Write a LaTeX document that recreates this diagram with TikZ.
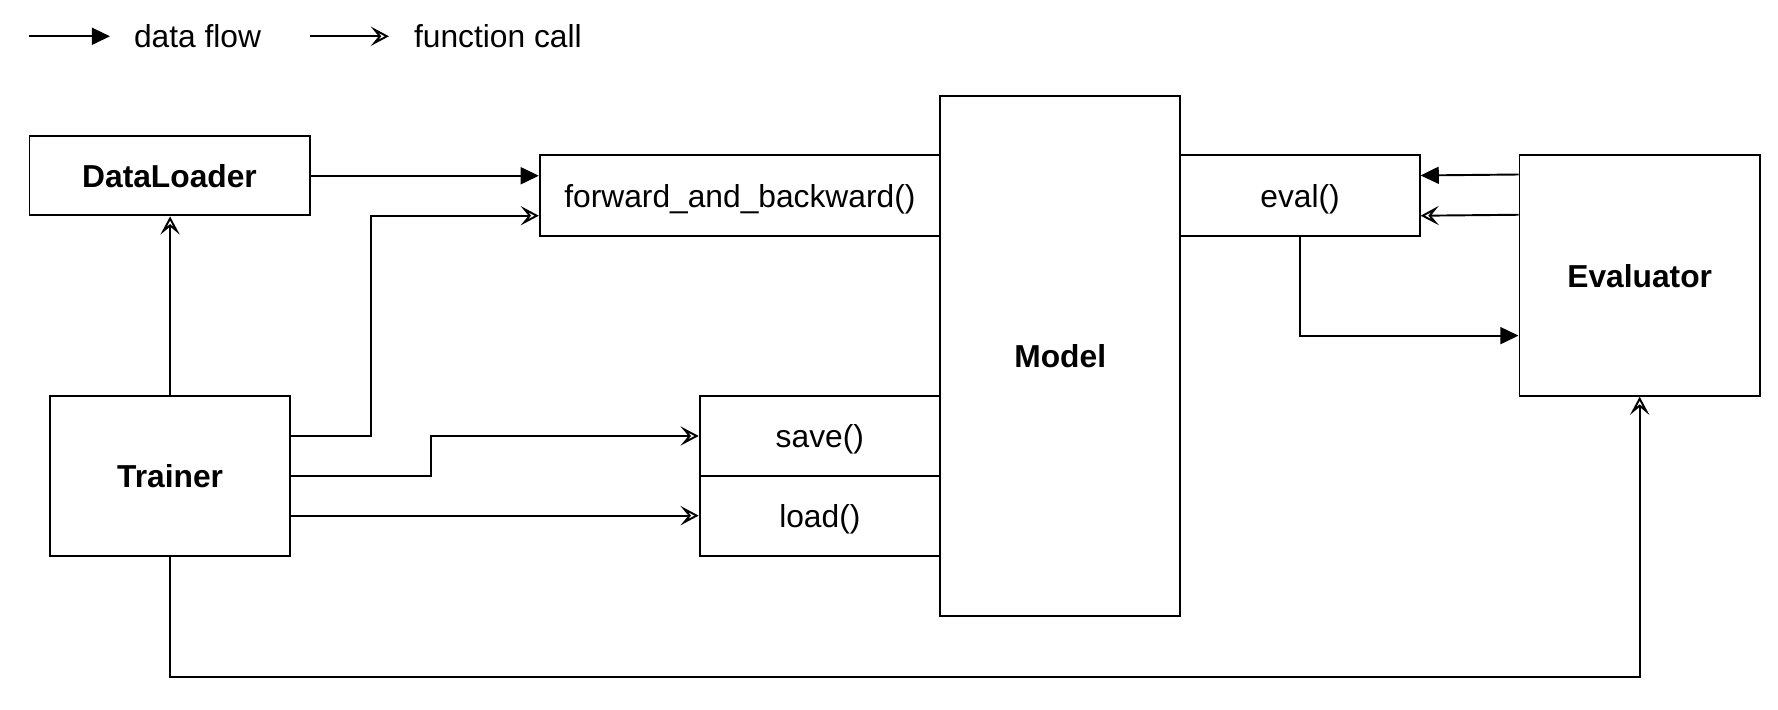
\documentclass[tikz,border=0pt]{standalone}
\usepackage{fontspec}
\setmainfont{Liberation Sans}
\usetikzlibrary{arrows.meta}

\tikzset{
  box/.style={draw, line width=1.7pt, inner sep=0pt, text depth=0pt, font=\fontsize{28}{34}\selectfont},
  dataflow/.style={line width=1.7pt, -{Triangle[length=16pt,width=15pt]}},
  funccall/.style={line width=1.7pt, -{Stealth[open,length=16pt,width=17pt,inset=7pt]}},
  legendtext/.style={anchor=west, inner sep=0pt, font=\fontsize{28}{34}\selectfont}
}

\begin{document}
\begin{tikzpicture}[x=1pt,y=1pt]
    \useasboundingbox (0,0) rectangle (1568,626);

    % Legend
    \coordinate (df1) at (26,594);
    \coordinate (df2) at (97,594);
    \coordinate (fc1) at (273,594);
    \coordinate (fc2) at (343,594);
    \draw[dataflow] (df1) -- (df2);
    \node[legendtext] (dflabel) at (118,594) {data flow};
    \draw[funccall] (fc1) -- (fc2);
    \node[legendtext] (fclabel) at (365,594) {function call};

    % Boxes
    \node[box, minimum width=247pt, minimum height=70pt] (dataloader) at (149.5,471) {\textbf{DataLoader}};
    \node[box, minimum width=212pt, minimum height=141pt] (trainer) at (150,206.5) {\textbf{Trainer}};
    \node[box, minimum width=212pt, minimum height=458pt] (model) at (935,312) {\textbf{Model}};
    \node[box, minimum width=353pt, minimum height=71pt] (fwd) at (652.5,453.5) {forward\_and\_backward()};
    \node[box, minimum width=211pt, minimum height=71pt] (eval) at (1146.5,453.5) {eval()};
    \node[box, minimum width=212pt, minimum height=71pt] (save) at (723,241.5) {save()};
    \node[box, minimum width=212pt, minimum height=70pt] (load) at (723,171) {load()};
    \node[box, minimum width=212pt, minimum height=212pt] (evaluator) at (1446,383) {\textbf{Evaluator}};

    % DataLoader and Trainer to the model
    \draw[dataflow] (dataloader.east) -- (dataloader.east -| fwd.west);
    \draw[funccall] (trainer.north) -- (trainer.north |- dataloader.south);
    \draw[funccall] ([yshift=35.25pt]trainer.east) -- ++(70,0) |- ([yshift=-17.75pt]fwd.west);
    \draw[funccall] (trainer.east) -- ++(123,0) |- (save.west);
    \draw[funccall] ([yshift=-35.25pt]trainer.east) -- ([yshift=-35.25pt]trainer.east -| load.west);
    \draw[funccall] (trainer.south) -- ++(0,-106) -| (evaluator.south);

    % Evaluator and eval()
    \draw[dataflow] ([yshift=-17.75pt]evaluator.north west) -- ([yshift=17.75pt]eval.east);
    \draw[funccall] ([yshift=-53.25pt]evaluator.north west) -- ([yshift=-17.75pt]eval.east);
    \draw[dataflow] (eval.south) |- ([yshift=-53pt]evaluator.west);

\end{tikzpicture}
\end{document}
